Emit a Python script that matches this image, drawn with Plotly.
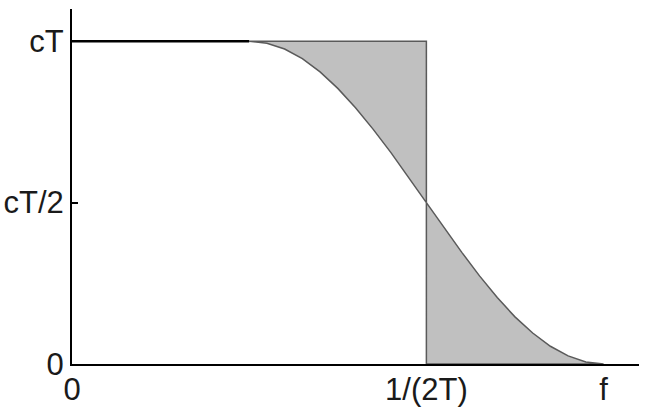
import plotly.graph_objects as go

# Raised-cosine spectrum (x in units where 1/(2T) = 0.5, y in units of cT)
flat_f = [0.0, 0.25]
flat_h = [1.0, 1.0]
roll_f = [0.25, 0.275, 0.3, 0.325, 0.35, 0.375, 0.4, 0.425, 0.45, 0.475, 0.5,
          0.525, 0.55, 0.575, 0.6, 0.625, 0.65, 0.675, 0.7, 0.725, 0.75]
roll_h = [1.0, 0.994, 0.976, 0.946, 0.905, 0.854, 0.794, 0.727, 0.655, 0.578, 0.5,
          0.422, 0.346, 0.273, 0.206, 0.146, 0.096, 0.055, 0.025, 0.006, 0.0]
nyquist = 0.5
x_ticks = [0.0, 0.5, 0.75]
x_labels = ["0", "1/(2T)", "f"]
y_ticks = [0.0, 0.5, 1.0]
y_labels = ["0", "cT/2", "cT"]

mid = roll_f.index(nyquist)
# region above the curve, below the ideal rectangle
a_x = roll_f[:mid + 1] + [nyquist, roll_f[0]]
a_y = roll_h[:mid + 1] + [1.0, roll_h[0]]
# region below the curve, beyond the ideal rectangle
b_x = roll_f[mid:] + [nyquist, nyquist]
b_y = roll_h[mid:] + [0.0, roll_h[mid]]

fill_col = "#c0c0c0"
edge_col = "#5a5a5a"

fig = go.Figure()
fig.add_trace(go.Scatter(x=a_x, y=a_y, mode="lines", fill="toself", fillcolor=fill_col,
                         line=dict(color=edge_col, width=1.5), hoverinfo="skip"))
fig.add_trace(go.Scatter(x=b_x, y=b_y, mode="lines", fill="toself", fillcolor=fill_col,
                         line=dict(color=edge_col, width=1.5), hoverinfo="skip"))
fig.add_trace(go.Scatter(x=flat_f, y=flat_h, mode="lines",
                         line=dict(color="black", width=2.5), hoverinfo="skip"))

font = dict(family="Liberation Sans, Arial, sans-serif", size=31, color="#1a1a1a")
fig.update_layout(
    width=655, height=418,
    margin=dict(l=72, r=16, t=9, b=54),
    paper_bgcolor="white", plot_bgcolor="white",
    showlegend=False,
    font=font,
    xaxis=dict(range=[0, 0.8], tickvals=x_ticks, ticktext=x_labels, ticks="",
               showgrid=False, zeroline=False, showline=True, linecolor="black",
               linewidth=2, tickfont=font, automargin=False, ticklabelstandoff=-3),
    yaxis=dict(range=[0, 1.1], tickvals=y_ticks, ticktext=y_labels, ticks="inside",
               ticklen=6, tickwidth=2, tickcolor="black",
               showgrid=False, zeroline=False, showline=True, linecolor="black",
               linewidth=2, tickfont=font, automargin=False),
)
fig.write_html("out.html", config={"displayModeBar": False},
               post_script="document.body.style.margin='0';")
